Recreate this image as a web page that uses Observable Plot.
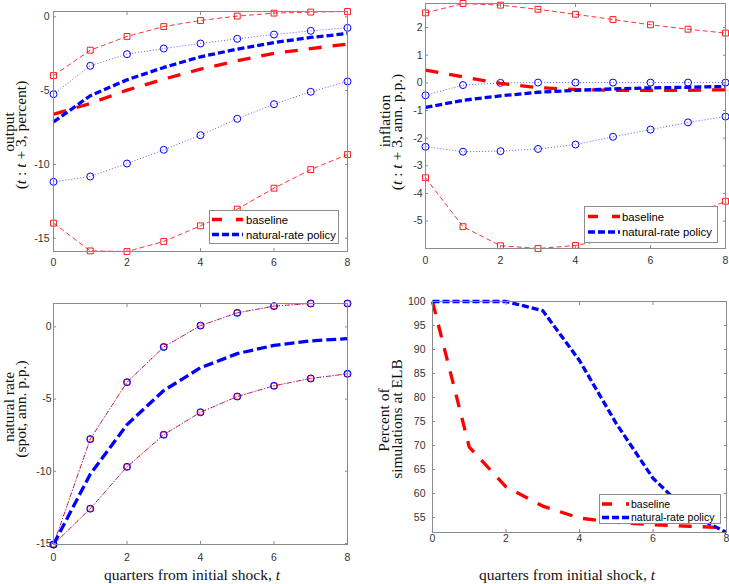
<!DOCTYPE html>
<html><head><meta charset="utf-8">
<script src="https://cdn.jsdelivr.net/npm/d3@7"></script>
<script src="https://cdn.jsdelivr.net/npm/@observablehq/plot@0.6"></script>
<style>
body{margin:0;background:#fff;}
#wrap{position:relative;width:729px;height:584px;overflow:hidden;background:#fff;}
.panel{position:absolute;}
.legend{position:absolute;}
</style></head><body><div id="wrap"></div>
<script>
// ---------- data ----------
const quarters = [0,1,2,3,4,5,6,7,8];
const xTicks = [0,2,4,6,8];

// output (t:t+3, percent)
const outBaseHi  = [-3.98,-2.26,-1.33,-0.66,-0.25,0.05,0.25,0.32,0.36];
const outBaseLo  = [-13.98,-15.86,-15.90,-15.22,-14.16,-13.03,-11.61,-10.35,-9.33];
const outBaseMed = [-6.60,-5.87,-4.97,-4.22,-3.55,-2.98,-2.48,-2.15,-1.85];
const outNatHi   = [-5.24,-3.32,-2.53,-2.15,-1.81,-1.49,-1.20,-0.95,-0.75];
const outNatLo   = [-11.18,-10.82,-9.94,-9.01,-8.02,-6.91,-5.92,-5.08,-4.38];
const outNatMed  = [-7.12,-5.35,-4.27,-3.43,-2.71,-2.19,-1.74,-1.40,-1.13];
const outTicks = [-15,-10,-5,0];

// inflation (t:t+3, ann. p.p.)
const infBaseHi  = [2.53,2.87,2.81,2.66,2.48,2.29,2.10,1.94,1.80];
const infBaseLo  = [-3.43,-5.20,-5.89,-5.99,-5.88,-5.63,-5.30,-4.85,-4.28];
const infBaseMed = [0.46,0.22,-0.02,-0.17,-0.24,-0.27,-0.27,-0.27,-0.25];
const infNatHi   = [-0.45,-0.08,0.00,0.01,0.01,0.01,0.01,0.01,0.01];
const infNatLo   = [-2.31,-2.49,-2.47,-2.39,-2.23,-1.95,-1.69,-1.43,-1.22];
const infNatMed  = [-0.89,-0.63,-0.47,-0.34,-0.27,-0.22,-0.18,-0.16,-0.13];
const infTicks = [-5,-4,-3,-2,-1,0,1,2];

// natural rate (spot, ann. p.p.)
const nrHi  = [-15.07,-7.77,-3.83,-1.39,0.09,0.97,1.44,1.62,1.62];
const nrLo  = [-15.07,-12.59,-9.69,-7.47,-5.91,-4.82,-4.08,-3.57,-3.25];
const nrMed = [-15.07,-10.20,-6.77,-4.41,-2.83,-1.85,-1.28,-0.97,-0.81];
const nrTicks = [-15,-10,-5,0];

// percent of simulations at ELB
const elbBase = [100,69.7,61.4,57.4,54.9,54.0,53.5,53.2,52.9];
const elbNat  = [100,100,100,98.1,87.7,74.6,63.2,55.8,51.9];
const elbTicks = [55,60,65,70,75,80,85,90,95,100];

const legendNames = ["baseline","natural-rate policy"];

// ---------- styles ----------
const RED = "#ff0000", BLUE = "#0000ff";
const AX = "#8a8a8a", TXT = "#333333";
const SANS = "'Liberation Sans', Arial, Helvetica, sans-serif";
const SERIF = "'Liberation Serif', 'Times New Roman', serif";

const rows = ys => quarters.map((q,i) => ({t:q, v:ys[i]}));
const LC = {strokeLinecap:"butt", strokeLinejoin:"miter"};

const redBand = ys => [
  Plot.line(rows(ys), {x:"t", y:"v", stroke:RED, strokeWidth:0.8, strokeDasharray:"5,3", ...LC}),
  Plot.dot(rows(ys), {x:"t", y:"v", symbol:"square", r:3.3, stroke:RED, strokeWidth:0.9, fill:"none"})
];
const blueBand = ys => [
  Plot.line(rows(ys), {x:"t", y:"v", stroke:BLUE, strokeWidth:0.8, strokeDasharray:"1,2", strokeOpacity:0.8, ...LC}),
  Plot.dot(rows(ys), {x:"t", y:"v", symbol:"circle", r:3.5, stroke:BLUE, strokeWidth:1, fill:"none"})
];
const redMed = ys => Plot.line(rows(ys), {x:"t", y:"v", stroke:RED, strokeWidth:3.3, strokeDasharray:"13,11", ...LC});
const blueMed = ys => Plot.line(rows(ys), {x:"t", y:"v", stroke:BLUE, strokeWidth:3.3, strokeDasharray:"7,3", ...LC});

function axes(yTicks, yPad, xPad) {
  return [
    Plot.axisY(yTicks, {anchor:"left", tickSize:3, dx:3, tickFormat:()=>"", stroke:AX, label:null}),
    Plot.axisY(yTicks, {anchor:"right", tickSize:3, dx:-3, tickFormat:()=>"", stroke:AX, label:null}),
    Plot.axisX(xTicks, {anchor:"bottom", tickSize:3, dy:-3, tickFormat:()=>"", stroke:AX, label:null}),
    Plot.axisX(xTicks, {anchor:"top", tickSize:3, dy:3, tickFormat:()=>"", stroke:AX, label:null}),
    Plot.axisY(yTicks, {anchor:"left", tickSize:0, tickPadding:yPad, tickFormat:d=>String(d), fill:TXT, label:null}),
    Plot.axisX(xTicks, {anchor:"bottom", tickSize:0, tickPadding:xPad, tickFormat:d=>String(d), fill:TXT, label:null}),
    Plot.frame({stroke:AX, strokeWidth:1})
  ];
}

function panel(cfg) {
  const all = cfg.series.flat();
  const chart = Plot.plot({
    width: cfg.w, height: cfg.h,
    marginLeft: cfg.m[3], marginRight: cfg.m[1], marginTop: cfg.m[0], marginBottom: cfg.m[2],
    style: {fontFamily: SANS, fontSize: "10.5px", background: "#fff", overflow: "visible"},
    x: {domain: [0, 8]},
    y: {domain: d3.extent(all)},
    marks: [...cfg.marks, ...axes(cfg.yTicks, cfg.yPad, cfg.xPad)]
  });
  const div = document.createElement("div");
  div.className = "panel";
  div.style.left = cfg.left + "px";
  div.style.top = cfg.top + "px";
  div.appendChild(chart);
  document.getElementById("wrap").appendChild(div);
  const svg = d3.select(chart);
  cfg.ylab.forEach(l => {
    const tx = svg.append("text")
      .attr("transform", `translate(${l.x},${l.y}) rotate(-90)`)
      .attr("text-anchor", "middle")
      .attr("font-family", SERIF).attr("font-size", "15.5px").attr("fill", "#111");
    l.parts.forEach(p => tx.append("tspan").attr("font-style", p[1] ? "italic" : null).text(p[0]));
  });
  if (cfg.xlab) {
    const tx = svg.append("text")
      .attr("x", cfg.xlab.x).attr("y", cfg.xlab.y)
      .attr("text-anchor", "middle")
      .attr("font-family", SERIF).attr("font-size", "15.5px").attr("fill", "#111");
    [["quarters from initial shock, ",0],["t",1]].forEach(p => tx.append("tspan").attr("font-style", p[1] ? "italic" : null).text(p[0]));
  }
}

function legend(cfg) {
  const svg = d3.select("#wrap").append("svg")
    .attr("class","legend")
    .style("left", cfg.x + "px").style("top", cfg.y + "px")
    .attr("width", cfg.w).attr("height", cfg.h);
  svg.append("rect").attr("x",0.5).attr("y",0.5).attr("width",cfg.w-1).attr("height",cfg.h-1)
    .attr("fill","#fff").attr("stroke","#8c8c8c").attr("stroke-width",1);
  const styles = [{c:RED, d:"10,14"}, {c:BLUE, d:"7,3"}];
  legendNames.forEach((name,i) => {
    const yy = cfg.rows[i];
    svg.append("line").attr("x1",cfg.l0).attr("x2",cfg.l1).attr("y1",yy).attr("y2",yy)
      .attr("stroke",styles[i].c).attr("stroke-width",3.3).attr("stroke-dasharray",styles[i].d);
    svg.append("text").attr("x",cfg.tx).attr("y",yy).attr("dy","0.36em")
      .attr("font-family",SANS).attr("font-size",cfg.fs).attr("fill","#000").text(name);
  });
}

// ---------- panels ----------
panel({
  left:0, top:0, w:365, h:290, m:[11,18,39,53],
  series:[outBaseHi,outBaseLo,outBaseMed,outNatHi,outNatLo,outNatMed],
  yTicks: outTicks, yPad:4, xPad:7,
  marks:[...redBand(outBaseHi), ...redBand(outBaseLo), ...blueBand(outNatHi), ...blueBand(outNatLo), redMed(outBaseMed), blueMed(outNatMed)],
  ylab:[{x:14, y:132, parts:[["output",0]]},
        {x:26, y:135, parts:[["(",0],["t",1],[" : ",0],["t",1],[" + 3, percent)",0]]}]
});

panel({
  left:365, top:0, w:364, h:290, m:[3,4,42,60],
  series:[infBaseHi,infBaseLo,infBaseMed,infNatHi,infNatLo,infNatMed],
  yTicks: infTicks, yPad:3, xPad:8,
  marks:[...redBand(infBaseHi), ...redBand(infBaseLo), ...blueBand(infNatHi), ...blueBand(infNatLo), redMed(infBaseMed), blueMed(infNatMed)],
  ylab:[{x:25, y:121, parts:[["inflation",0]]},
        {x:37, y:132, parts:[["(",0],["t",1],[" : ",0],["t",1],[" + 3, ann. p.p.)",0]]}]
});

panel({
  left:0, top:290, w:365, h:294, m:[13,18,40,53],
  series:[nrHi,nrLo,nrMed],
  yTicks: nrTicks, yPad:2, xPad:9,
  marks:[
    Plot.line(rows(nrHi), {x:"t", y:"v", stroke:RED, strokeWidth:0.8, strokeDasharray:"5,2,1,2", ...LC}),
    Plot.line(rows(nrLo), {x:"t", y:"v", stroke:RED, strokeWidth:0.8, strokeDasharray:"5,2,1,2", ...LC}),
    Plot.dot(rows(nrHi), {x:"t", y:"v", symbol:"square", r:3.0, stroke:RED, strokeWidth:0.9, fill:"none"}),
    Plot.dot(rows(nrLo), {x:"t", y:"v", symbol:"square", r:3.0, stroke:RED, strokeWidth:0.9, fill:"none"}),
    ...blueBand(nrHi), ...blueBand(nrLo),
    Plot.line(rows(nrMed), {x:"t", y:"v", stroke:BLUE, strokeWidth:3.3, strokeDasharray:"10,4", ...LC})
  ],
  ylab:[{x:14, y:117, parts:[["natural rate",0]]},
        {x:26, y:119, parts:[["(spot, ann. p.p.)",0]]}],
  xlab:{x:192, y:290}
});

panel({
  left:365, top:290, w:364, h:294, m:[11,3,52,67],
  series:[elbBase, elbNat],
  yTicks: elbTicks, yPad:7, xPad:2,
  marks:[redMed(elbBase), blueMed(elbNat)],
  ylab:[{x:24, y:130, parts:[["Percent of",0]]},
        {x:37, y:129, parts:[["simulations at ELB",0]]}],
  xlab:{x:202, y:290}
});

// ---------- legends ----------
legend({x:209, y:210, w:130, h:34, rows:[9.5,24.5], l0:3, l1:34, tx:37, fs:"11.3px"});
legend({x:584, y:206, w:134, h:37, rows:[10.5,26], l0:4, l1:36, tx:38, fs:"11.3px"});
legend({x:599, y:494, w:122, h:30, rows:[10,23.5], l0:3, l1:30, tx:32, fs:"10.5px"});
</script></body></html>
